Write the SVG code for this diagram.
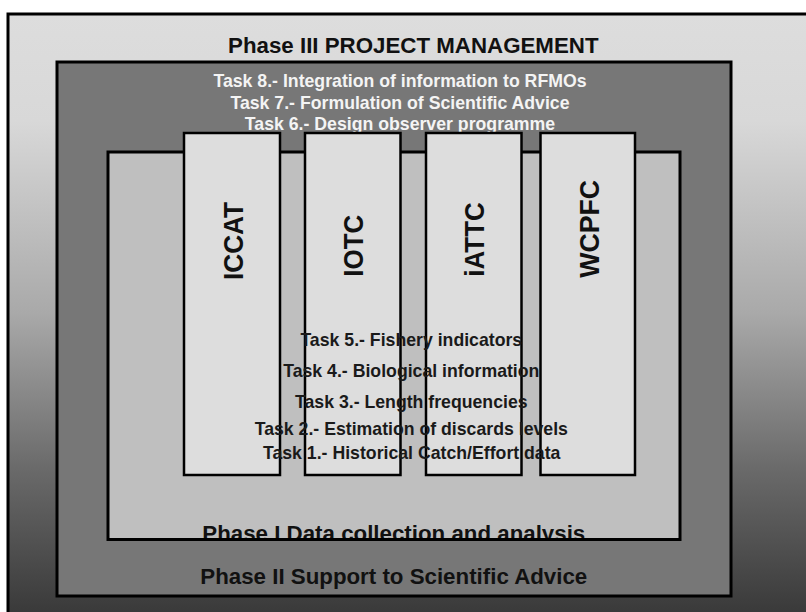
<svg xmlns="http://www.w3.org/2000/svg" width="806" height="612" viewBox="0 0 806 612">
<defs>
<linearGradient id="bgGrad" gradientUnits="userSpaceOnUse" x1="0" y1="14" x2="0" y2="612">
<stop offset="0" stop-color="#dddddd"/>
<stop offset="0.18" stop-color="#d8d8d8"/>
<stop offset="0.5" stop-color="#a9a9a9"/>
<stop offset="0.76" stop-color="#6a6a6a"/>
<stop offset="1" stop-color="#3a3a3a"/>
</linearGradient>
<clipPath id="phase1Clip"><rect x="108" y="152" width="572" height="387.5"/></clipPath>
</defs>
<style>
text { font-family: "Liberation Sans", Arial, sans-serif; font-weight: bold; }
.phase { font-size: 22.3px; fill: #111111; text-anchor: middle; }
.task { font-size: 17.7px; text-anchor: middle; }
.taskW { fill: #f4f4f4; }
.taskD { fill: #1a1a1a; }
.col { fill: #dddddd; stroke: #000000; stroke-width: 2.5; }
.colLabel { font-size: 27px; fill: #111111; }
.box { stroke: #000000; stroke-width: 3; }
</style>
<rect width="806" height="612" fill="#ffffff"/>
<g id="phase3">
<rect class="box" x="8" y="14" width="820" height="620" fill="url(#bgGrad)"/>
<text class="phase" x="413.3" y="53.3">Phase III PROJECT MANAGEMENT</text>
</g>
<g id="phase2">
<rect class="box" x="57" y="62" width="674" height="534" fill="#777777"/>
<text class="phase" x="393.8" y="584">Phase II Support to Scientific Advice</text>
<text class="task taskW" x="400" y="87.3">Task 8.- Integration of information to RFMOs</text>
<text class="task taskW" x="400" y="109.3">Task 7.- Formulation of Scientific Advice</text>
<text class="task taskW" x="400" y="130">Task 6.- Design observer programme</text>
</g>
<g id="phase1">
<rect x="108" y="152" width="572" height="387.5" fill="#bfbfbf"/>
<text class="phase" x="393.8" y="541" clip-path="url(#phase1Clip)">Phase I Data collection and analysis</text>
<rect class="box" x="108" y="152" width="572" height="387.5" fill="none"/>
</g>
<g id="iccat">
<rect class="col" x="184" y="133" width="96" height="342"/>
<text class="colLabel" transform="translate(242.7,280) rotate(-90)" textLength="78" lengthAdjust="spacingAndGlyphs">ICCAT</text>
</g>
<g id="iotc">
<rect class="col" x="305" y="133" width="95.5" height="342"/>
<text class="colLabel" transform="translate(363.3,276.7) rotate(-90)" textLength="62" lengthAdjust="spacingAndGlyphs">IOTC</text>
</g>
<g id="iattc">
<rect class="col" x="426" y="133" width="95.5" height="342"/>
<text class="colLabel" transform="translate(483.8,276.7) rotate(-90)" textLength="74.5" lengthAdjust="spacingAndGlyphs">iATTC</text>
</g>
<g id="wcpfc">
<rect class="col" x="540.5" y="133" width="94.5" height="342"/>
<text class="colLabel" transform="translate(599.3,277.7) rotate(-90)" textLength="97.7" lengthAdjust="spacingAndGlyphs">WCPFC</text>
</g>
<g id="tasks1to5">
<text class="task taskD" x="411.3" y="346">Task 5.- Fishery indicators</text>
<text class="task taskD" x="411.3" y="377.3">Task 4.- Biological information</text>
<text class="task taskD" x="411.3" y="408.3">Task 3.- Length frequencies</text>
<text class="task taskD" x="411.3" y="435">Task 2.- Estimation of discards levels</text>
<text class="task taskD" x="411.7" y="459.3">Task 1.- Historical Catch/Effort data</text>
</g>
<g id="connectors"></g>
</svg>
